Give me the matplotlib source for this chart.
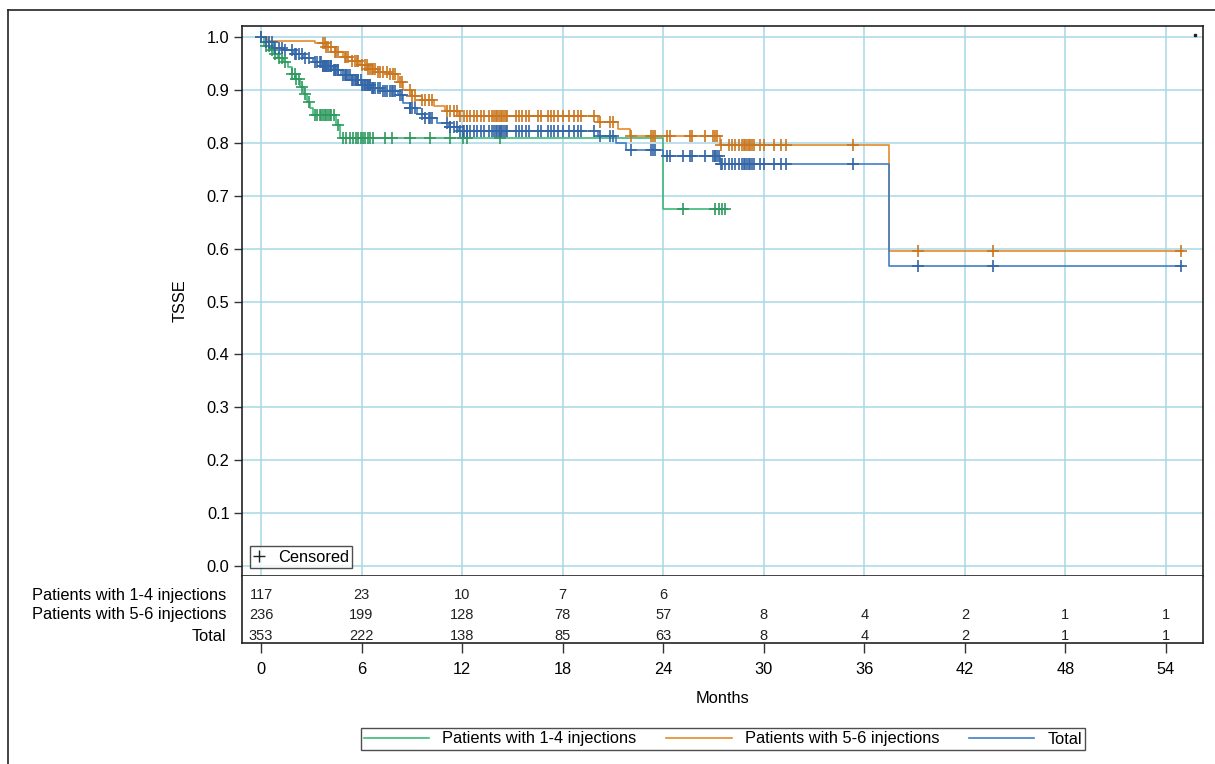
import matplotlib.pyplot as plt
import numpy as np
from matplotlib.lines import Line2D

plt.rcParams['font.family'] = ['Liberation Sans', 'DejaVu Sans']

# survival step curves (month of event, survival after event)
green_t = [0, 0.2, 0.5, 0.75, 1.0, 1.3, 1.6, 1.85, 2.05, 2.3, 2.55, 2.75, 2.95, 3.1, 4.5, 4.7, 24.0]
green_s = [1.0, 0.983, 0.975, 0.967, 0.96, 0.952, 0.943, 0.931, 0.92, 0.905, 0.892, 0.878, 0.866, 0.853, 0.833, 0.81, 0.675]
green_end = 27.7

orange_t = [0, 0.4, 3.2, 3.9, 4.4, 4.9, 5.4, 5.9, 6.4, 7.0, 7.6, 8.2, 8.5, 9.0, 9.6, 10.3, 11.0, 11.8,
            20.1, 21.3, 22.0, 27.4, 37.5]
orange_s = [1.0, 0.992, 0.988, 0.982, 0.972, 0.963, 0.955, 0.947, 0.94, 0.934, 0.93, 0.915, 0.9, 0.889,
            0.88, 0.87, 0.86, 0.851, 0.839, 0.826, 0.812, 0.795, 0.596]
orange_end = 55.0

blue_t = [0, 0.3, 0.8, 1.3, 1.9, 2.5, 3.1, 3.7, 4.3, 4.8, 5.4, 6.0, 6.6, 7.2, 8.2, 8.5, 8.9, 9.3, 9.8,
          10.5, 11.2, 11.8, 20.1, 21.2, 21.8, 24.0, 27.4, 37.5]
blue_s = [1.0, 0.99, 0.98, 0.975, 0.968, 0.96, 0.953, 0.945, 0.937, 0.928, 0.918, 0.91, 0.903, 0.898,
          0.89, 0.875, 0.865, 0.855, 0.846, 0.838, 0.83, 0.822, 0.812, 0.799, 0.786, 0.775, 0.76, 0.568]
blue_end = 55.0

# censoring times
green_cens = [0.0, 0.3, 0.45, 0.65, 0.85, 1.05, 1.25, 1.45, 1.85, 2.0, 2.1, 2.25, 2.45, 2.65, 2.85,
              3.2, 3.35, 3.5, 3.6, 3.7, 3.8, 3.9, 4.0, 4.1, 4.2, 4.35, 4.6, 4.9, 5.1, 5.3, 5.5, 5.67,
              5.8, 5.95, 6.07, 6.2, 6.37, 6.5, 6.7, 7.4, 7.8, 8.9, 10.1, 11.3, 12.07, 12.27, 14.26,
              25.2, 27.1, 27.3, 27.5, 27.7]
orange_cens = [3.7, 3.8, 3.9, 4.0, 4.2, 4.4, 4.5, 4.6, 5.0, 5.1, 5.2, 5.4, 5.6, 5.7, 5.8, 6.0, 6.2, 6.3,
               6.4, 6.5, 6.6, 6.7, 6.8, 7.0, 7.1, 7.3, 7.5, 7.7, 7.9, 8.0, 8.3, 8.4, 8.9, 9.0, 9.2, 9.6,
               9.8, 10.0, 10.2, 11.1, 11.3, 11.5, 11.7, 11.9, 12.1, 12.3, 12.5, 12.7, 12.9, 13.1, 13.3,
               13.6, 13.8, 13.9, 14.0, 14.1, 14.2, 14.3, 14.4, 14.5, 14.6, 14.7, 15.2, 15.4, 15.6,
               15.8, 16.0, 16.5, 16.7, 17.1, 17.3, 17.5, 17.7, 18.0, 18.4, 18.7, 18.9, 19.1, 19.9,
               20.2, 20.8, 21.0, 22.1, 23.3, 23.4, 23.5, 24.2, 24.4, 25.6, 25.7, 26.5, 27.0, 27.1,
               27.2, 27.45, 27.9, 28.1, 28.3, 28.5, 28.7, 28.8, 28.9, 29.0, 29.1, 29.2, 29.3, 29.4,
               29.8, 30.0, 30.6, 31.0, 31.3, 35.3, 39.2, 43.7, 54.9]
blue_cens = green_cens + orange_cens

# numbers at risk
risk_months = [0, 6, 12, 18, 24, 30, 36, 42, 48, 54]
risk_labels = ['Patients with 1-4 injections', 'Patients with 5-6 injections', 'Total']
risk_green = [117, 23, 10, 7, 6]
risk_orange = [236, 199, 128, 78, 57, 8, 4, 2, 1, 1]
risk_total = [353, 222, 138, 85, 63, 8, 4, 2, 1, 1]

names = ['Patients with 1-4 injections', 'Patients with 5-6 injections', 'Total']
line_cols = ['#3db97a', '#e48b2b', '#3f7fc6']
mark_cols = ['#2e9a5e', '#c9761e', '#3366a6']

fs = 11.8

fig = plt.figure(figsize=(12.15, 7.64), dpi=100)
ax = fig.add_axes([242 / 1215, 1 - 576 / 764, 961 / 1215, 550 / 764])
axt = fig.add_axes([242 / 1215, 1 - 643 / 764, 961 / 1215, 67 / 764], sharex=ax)

grid_col = '#aad8e6'
for v in np.arange(0, 1.01, 0.1):
    ax.axhline(v, color=grid_col, lw=1.1, zorder=0)
for m in risk_months:
    ax.axvline(m, color=grid_col, lw=1.1, zorder=0)

curves = [(green_t, green_s, green_end, green_cens),
          (orange_t, orange_s, orange_end, orange_cens),
          (blue_t, blue_s, blue_end, blue_cens)]
handles = []
for (t, s, end, cens), name, lc, mc in zip(curves, names, line_cols, mark_cols):
    t = np.array(t)
    s = np.array(s)
    ax.step(np.append(t, end), np.append(s, s[-1]), where='post', color=lc, lw=1.2, zorder=3)
    c = np.array(cens)
    idx = np.searchsorted(t, c, side='right') - 1
    ax.plot(c, s[idx], ls='none', marker='+', ms=8, mew=1.2, color=mc, zorder=4)
    handles.append(Line2D([], [], color=lc, lw=1.2, label=name))

ax.set_xlim(-1.134, 56.21)
ax.set_ylim(-0.0189, 1.0208)
ax.set_yticks(np.arange(0, 1.01, 0.1))
ax.set_yticklabels(['%.1f' % v for v in np.arange(0, 1.01, 0.1)])
ax.tick_params(axis='y', length=6, width=1, color='#333333', labelsize=fs, pad=3)
ax.tick_params(axis='x', bottom=False, labelbottom=False)
ax.set_ylabel('TSSE', fontsize=fs, labelpad=14)
for sp in ax.spines.values():
    sp.set_color('#222222')
    sp.set_linewidth(1.2)

cens_handle = Line2D([], [], ls='none', marker='+', color='#222222', ms=8, mew=1.0)
leg1 = ax.legend([cens_handle], ['Censored'], loc='lower left', bbox_to_anchor=(0.0, 0.0),
                 fontsize=fs, frameon=True, fancybox=False, edgecolor='#222222',
                 handlelength=0.7, handletextpad=0.8, borderpad=0.2, borderaxespad=0.5)
leg1.get_frame().set_linewidth(1.0)

ax.plot([0.9917], [0.9836], marker='s', ms=1.8, color='#222222', transform=ax.transAxes)

# risk table
row_y = [0.716, 0.418, 0.104]
rows = [risk_green, risk_orange, risk_total]
for ry, lab, vals in zip(row_y, risk_labels, rows):
    axt.text(-0.0166, ry, lab, transform=axt.transAxes, ha='right', va='center', fontsize=fs)
    for m, v in zip(risk_months, vals):
        axt.text(m, ry, str(v), transform=axt.get_xaxis_transform(), ha='center', va='center',
                 fontsize=10.5, color='#222222')
axt.set_ylim(0, 1)
axt.set_yticks([])
axt.set_xticks(risk_months)
axt.tick_params(axis='x', length=7, width=1, color='#333333', labelsize=fs, pad=7)
axt.set_xlabel('Months', fontsize=fs, labelpad=10)
axt.spines['top'].set_visible(False)
for sp in ['left', 'right', 'bottom']:
    axt.spines[sp].set_color('#222222')
    axt.spines[sp].set_linewidth(1.2)

leg2 = fig.legend(handles=handles, loc='center', bbox_to_anchor=(723 / 1215, 1 - 739 / 764), ncol=3,
                  fontsize=fs, frameon=True, fancybox=False, edgecolor='#222222',
                  handlelength=4.0, columnspacing=1.8, handletextpad=0.8, borderpad=0.2)
leg2.get_frame().set_linewidth(1.0)

# outer frame (left and top edges)
fig.add_artist(Line2D([8 / 1215, 8 / 1215], [0, 1 - 9.5 / 764], transform=fig.transFigure,
                      color='#222222', lw=1.2))
fig.add_artist(Line2D([8 / 1215, 1], [1 - 9.5 / 764, 1 - 9.5 / 764], transform=fig.transFigure,
                      color='#222222', lw=1.2))

fig.savefig('out.png', dpi=100)
